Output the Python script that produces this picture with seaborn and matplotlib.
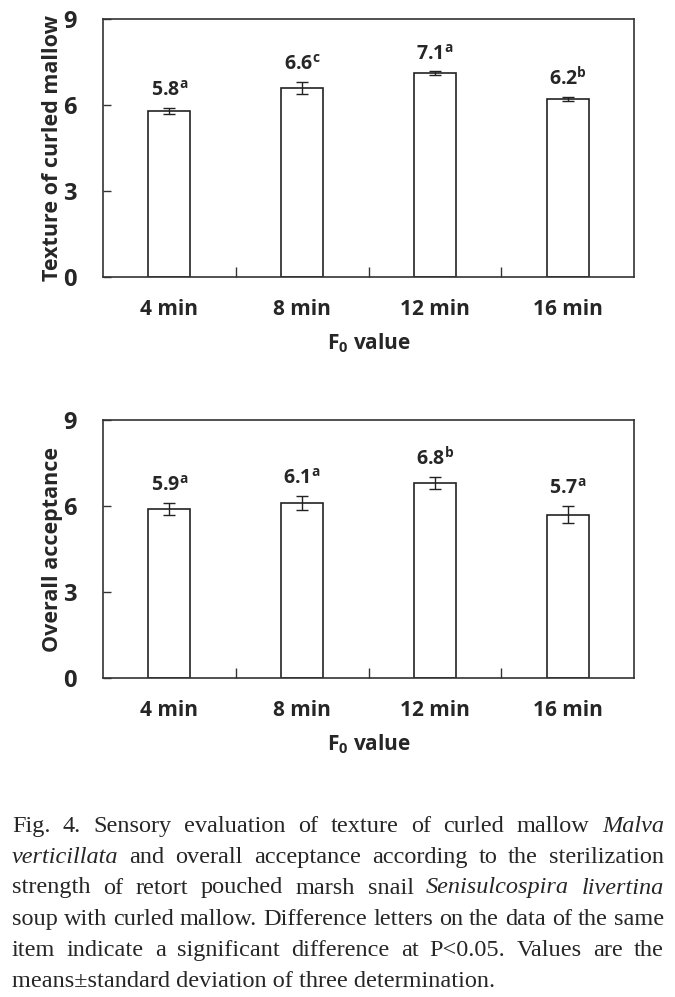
import pandas as pd
import matplotlib
matplotlib.use("Agg")
import matplotlib.pyplot as plt
import seaborn as sns

# ── Data ───────────────────────────────────────────────
times = ["4 min", "8 min", "12 min", "16 min"]

texture_mean = [5.8, 6.6, 7.1, 6.2]
texture_sd = [0.1, 0.2, 0.07, 0.07]
texture_letters = ["a", "c", "a", "b"]

accept_mean = [5.9, 6.1, 6.8, 5.7]
accept_sd = [0.2, 0.25, 0.2, 0.3]
accept_letters = ["a", "a", "b", "a"]

y_ticks = [0, 3, 6, 9]

caption_lines = [
    [("Fig.", False), ("4.", False), ("Sensory", False), ("evaluation", False), ("of", False),
     ("texture", False), ("of", False), ("curled", False), ("mallow", False), ("Malva", True)],
    [("verticillata", True), ("and", False), ("overall", False), ("acceptance", False),
     ("according", False), ("to", False), ("the", False), ("sterilization", False)],
    [("strength", False), ("of", False), ("retort", False), ("pouched", False), ("marsh", False),
     ("snail", False), ("Senisulcospira", True), ("livertina", True)],
    [("soup", False), ("with", False), ("curled", False), ("mallow.", False), ("Difference", False),
     ("letters", False), ("on", False), ("the", False), ("data", False), ("of", False),
     ("the", False), ("same", False)],
    [("item", False), ("indicate", False), ("a", False), ("significant", False),
     ("difference", False), ("at", False), ("P<0.05.", False), ("Values", False),
     ("are", False), ("the", False)],
    [("means±standard deviation of three determination.", False)],
]

# ── Style ──────────────────────────────────────────────
sns.set_theme(style="white")
LABEL_FONT = ["Open Sans", "DejaVu Sans"]
plt.rcParams.update({
    "font.family": LABEL_FONT,
    "font.weight": "bold",
    "axes.labelweight": "bold",
    "mathtext.fontset": "custom",
    "mathtext.rm": "Open Sans:bold",
    "mathtext.bf": "Open Sans:bold",
    "mathtext.it": "Open Sans:bold",
    "axes.edgecolor": "#333333",
    "axes.linewidth": 1.2,
})

fig = plt.figure(figsize=(6.75, 9.97), dpi=100)
ax_top = fig.add_axes([103 / 675, 1 - 277 / 997, 531 / 675, 258 / 997])
ax_bot = fig.add_axes([103 / 675, 1 - 678 / 997, 531 / 675, 258 / 997])


def draw_panel(ax, means, sds, letters, ylabel):
    df = pd.DataFrame({"time": times, "value": means})
    sns.barplot(data=df, x="time", y="value", color="white", edgecolor="#222222",
                linewidth=1.2, width=0.316, errorbar=None, ax=ax)
    ax.errorbar(range(len(times)), means, yerr=sds, fmt="none", ecolor="#222222",
                elinewidth=1.0, capsize=4, capthick=1.0)
    for i, (m, s, l) in enumerate(zip(means, sds, letters)):
        ax.annotate(r"$\mathbf{%.1f}^{\mathbf{%s}}$" % (m, l), (i, m + s),
                    xytext=(0, 5), textcoords="offset points",
                    ha="center", va="bottom", fontsize=14)
    ax.set_xlim(-0.5, 3.5)
    ax.set_ylim(0, 9)
    ax.set_yticks(y_ticks)
    ax.tick_params(axis="y", direction="in", length=6, width=1.0, labelsize=17,
                   left=True, pad=19, color="#333333")
    ax.set_xticks([0.5, 1.5, 2.5], minor=True)
    ax.set_xticks(range(len(times)))
    ax.set_xticklabels(times)
    ax.tick_params(axis="x", which="major", bottom=False, labelsize=15, pad=10)
    ax.tick_params(axis="x", which="minor", bottom=True, direction="in", length=7,
                   width=1.0, color="#333333")
    ax.set_xlabel(r"$\mathbf{F_0}$ value", fontsize=15, labelpad=8)
    ax.set_ylabel(ylabel, fontsize=15.5, labelpad=0)
    for sp in ax.spines.values():
        sp.set_visible(True)


draw_panel(ax_top, texture_mean, texture_sd, texture_letters, "Texture of curled mallow")
draw_panel(ax_bot, accept_mean, accept_sd, accept_letters, "Overall acceptance")

# ── Caption (justified) ────────────────────────────────
fig.canvas.draw()
renderer = fig.canvas.get_renderer()
x_left, x_right = 12 / 675, 664 / 675
line_y0, line_step = 826, 31
for li, words in enumerate(caption_lines):
    y = 1 - (line_y0 + li * line_step) / 997
    texts = []
    for w, it in words:
        t = fig.text(0, y, w, fontsize=17.5, family="Liberation Serif", weight="normal",
                     style="italic" if it else "normal", va="center", ha="left")
        texts.append(t)
    widths = [t.get_window_extent(renderer).width / fig.bbox.width for t in texts]
    if len(texts) > 1:
        gap = (x_right - x_left - sum(widths)) / (len(texts) - 1)
    else:
        gap = 0
    x = x_left
    for t, w in zip(texts, widths):
        t.set_x(x)
        x += w + gap

fig.savefig("out.png", dpi=100)
